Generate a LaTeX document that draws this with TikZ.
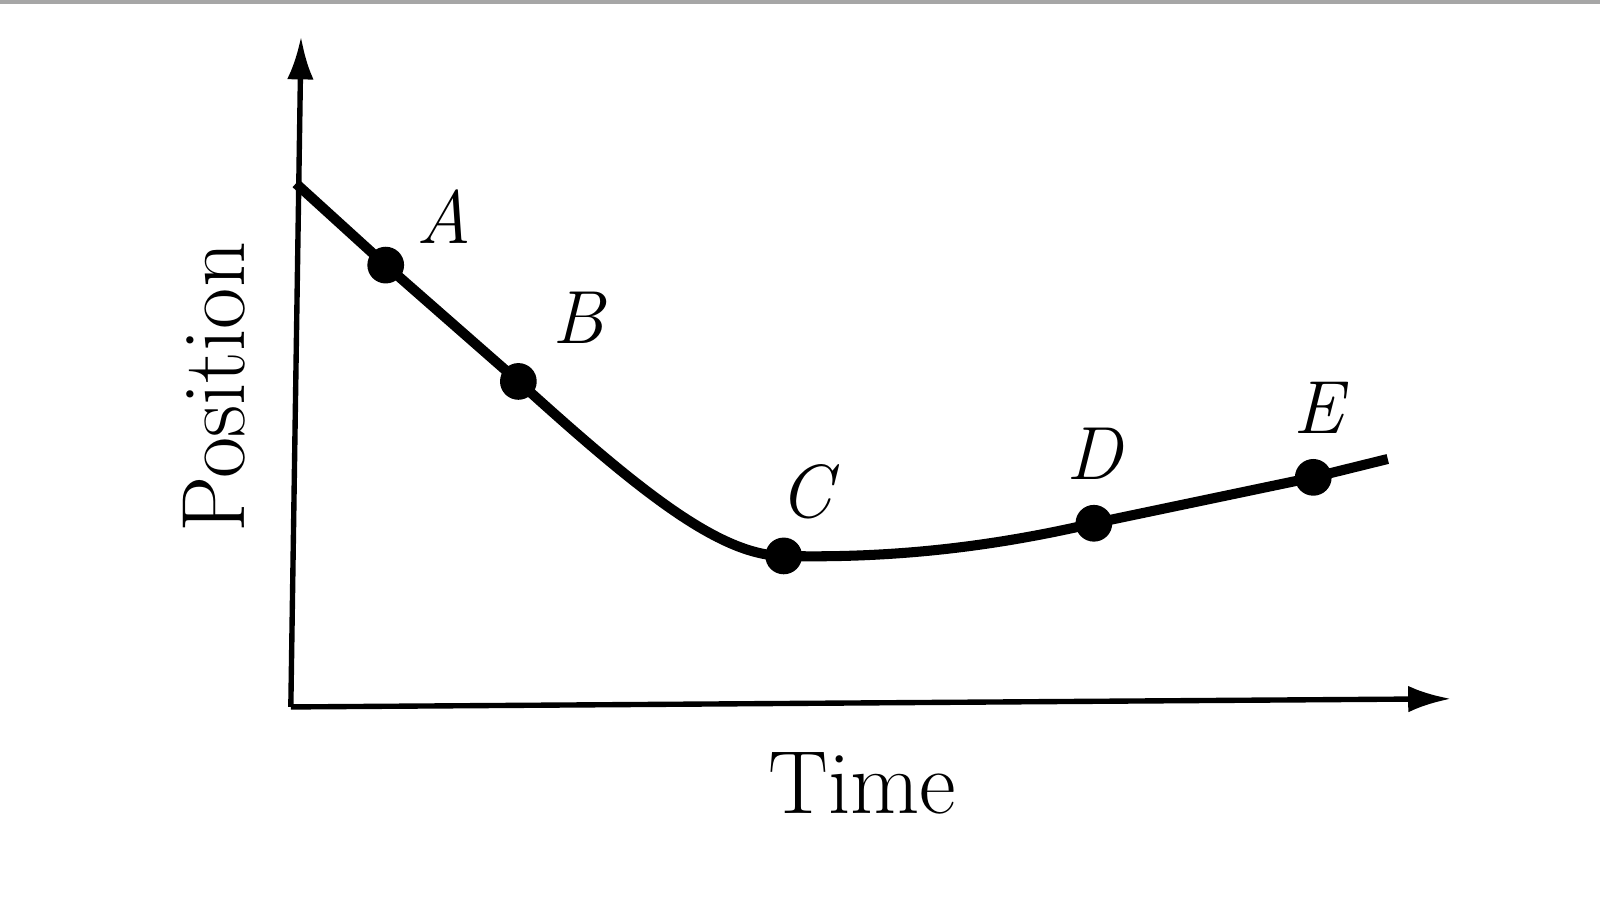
\documentclass[tikz,border=0pt]{standalone}
\usetikzlibrary{arrows.meta}
\begin{document}
\begin{tikzpicture}[>={Latex[length=4.2mm,width=2.6mm]},line join=round,
  dot/.style={circle,fill=black,inner sep=0pt,minimum size=3.6mm},
  lbl/.style={font=\fontsize{21}{24}\selectfont\itshape,inner sep=0pt},
  axlbl/.style={font=\fontsize{25}{28}\selectfont,inner sep=0pt}]
  \useasboundingbox (0,0) rectangle (15.68,8.898);
  % Frame edge
  \draw [gray!70,line width=1.2pt] (0,8.88) -- (15.68,8.88);
  % Axes
  \coordinate (O) at (2.85,1.97);
  \coordinate (Ytop) at (2.95,8.54);
  \coordinate (Xend) at (14.22,2.05);
  \draw [->,line width=1.5pt] (O) -- (Ytop);
  \draw [->,line width=1.5pt] (O) -- (Xend);
  % Node: points on the curve
  \node [dot] (A) at (3.78,6.30) {};
  \node [dot] (B) at (5.08,5.16) {};
  \node [dot] (C) at (7.68,3.45) {};
  \node [dot] (D) at (10.72,3.77) {};
  \node [dot] (E) at (12.87,4.22) {};
  \coordinate (Start) at (2.90,7.10);
  \coordinate (Stop) at (13.60,4.40);
  % Edge: position curve
  \draw [line width=2.8pt] (Start) -- (A.center) -- (B.center)
    .. controls (6.25,4.10) and (7.05,3.45) .. (C.center)
    .. controls (8.90,3.42) and (9.90,3.58) .. (D.center)
    -- (E.center) -- (Stop);
  % Labels
  \node [lbl] (Alab) at (4.35,6.78) {A};
  \node [lbl] (Blab) at (5.67,5.78) {B};
  \node [lbl] (Clab) at (7.90,4.08) {C};
  \node [lbl] (Dlab) at (10.72,4.45) {D};
  \node [lbl] (Elab) at (12.92,4.90) {E};
  \node [axlbl,rotate=90] (ylab) at (2.10,5.10) {Position};
  \node [axlbl] (xlab) at (8.45,1.22) {Time};
\end{tikzpicture}
\end{document}
